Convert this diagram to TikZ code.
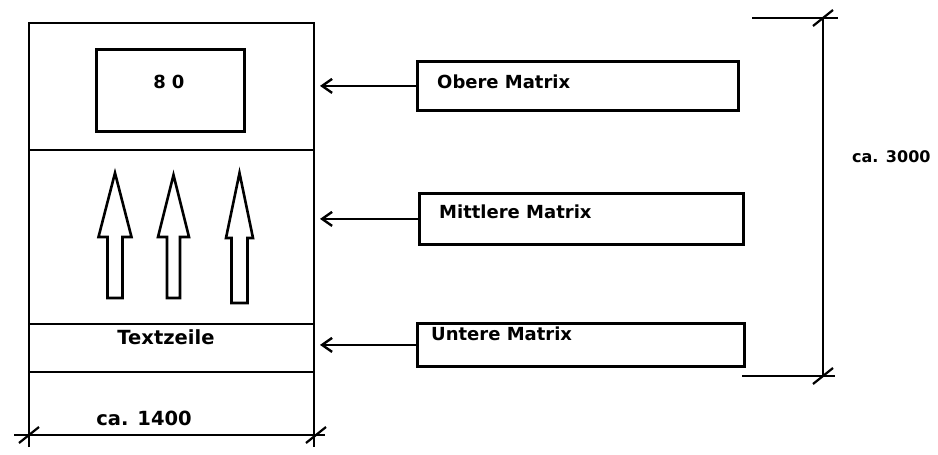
\documentclass[tikz,border=0pt]{standalone}
\usepackage{fontspec}
\setmainfont{DejaVu Sans}
\usetikzlibrary{arrows.meta}
\begin{document}
\begin{tikzpicture}
[x=1pt,y=-1pt,
  boxdecorate/.style={draw,line width=2.8pt,inner sep=0pt,anchor=north west},
  textdecorate/.style={font=\bfseries\fontsize{18}{18}\selectfont,inner sep=0pt},
  largedecorate/.style={font=\bfseries\fontsize{19.5}{19.5}\selectfont,inner sep=0pt},
  smalldecorate/.style={font=\bfseries\fontsize{16}{16}\selectfont,inner sep=0pt},
  linedecorate/.style={line width=2.8pt},
  pointerdecorate/.style={line width=2.4pt,shorten >=6pt,
    -{Straight Barb[length=10pt,width=14pt,line width=2.4pt]}}]
\useasboundingbox (0,0) rectangle (938,455);
%% housing
\coordinate (housingtl) at (29,23);
\coordinate (housingtr) at (314,23);
\draw[linedecorate] (29,447) -- (housingtl) -- (housingtr) -- (314,447);
\foreach \y in {150, 324, 372}
{
  \draw[linedecorate] (29,\y) -- (314,\y);
}
\node[boxdecorate,minimum width=148pt,minimum height=82pt] (display) at (95,48) {};
\node[textdecorate] (displaytext) at (169,82) {8\,\,0};
%% block arrows
\foreach \x/\tip/\base/\hw/\sw/\bottom in {115/173/237/16.5/7.5/298,
  173.5/175/237/15.5/6.5/298, 239.5/173/238/13.5/8/303}
{
  \draw[line width=2.6pt,line join=miter]
    (\x,\tip) -- (\x+\hw,\base) -- (\x+\sw,\base) -- (\x+\sw,\bottom)
    -- (\x-\sw,\bottom) -- (\x-\sw,\base) -- (\x-\hw,\base) -- cycle;
}
\node[largedecorate] (textzeile) at (166,337) {Textzeile};
%% matrix boxes
\foreach \nodename/\x/\y/\w/\h in {obere/416/60/321/49,
  mittlere/418/192/324/51, untere/416/322/327/43}
{
  \node[boxdecorate,minimum width=\w pt,minimum height=\h pt] (\nodename) at (\x,\y) {};
}
\foreach \nodename/\x/\y/\text in {obere/437/82/Obere Matrix,
  mittlere/439/212/Mittlere Matrix, untere/431/334/Untere Matrix}
{
  \node[textdecorate,anchor=west] (\nodename text) at (\x,\y) {\text};
}
\foreach \nodename in {obere, mittlere, untere}
{
  \draw[pointerdecorate] (\nodename.west) -- (housingtr |- \nodename.west);
}
%% dimensions
\coordinate (widthleft) at (29,435);
\coordinate (widthright) at (316,435);
\draw[linedecorate] (14,435) -- (widthleft) -- (widthright) -- (325,435);
\node[largedecorate] (widthtext) at (144,418) {ca. 1400};
\coordinate (heighttop) at (823,18);
\coordinate (heightbottom) at (823,376);
\draw[linedecorate] (752,18) -- (838,18);
\draw[linedecorate] (742,376) -- (835,376);
\draw[linedecorate] (heighttop) -- (heightbottom);
\node[smalldecorate,anchor=west] (heighttext) at (852,157) {ca. 3000};
\foreach \tick in {widthleft, widthright, heighttop, heightbottom}
{
  \draw[line width=2.2pt] ([xshift=-10pt,yshift=-8pt]\tick) -- ([xshift=10pt,yshift=8pt]\tick);
}
\end{tikzpicture}
\end{document}
